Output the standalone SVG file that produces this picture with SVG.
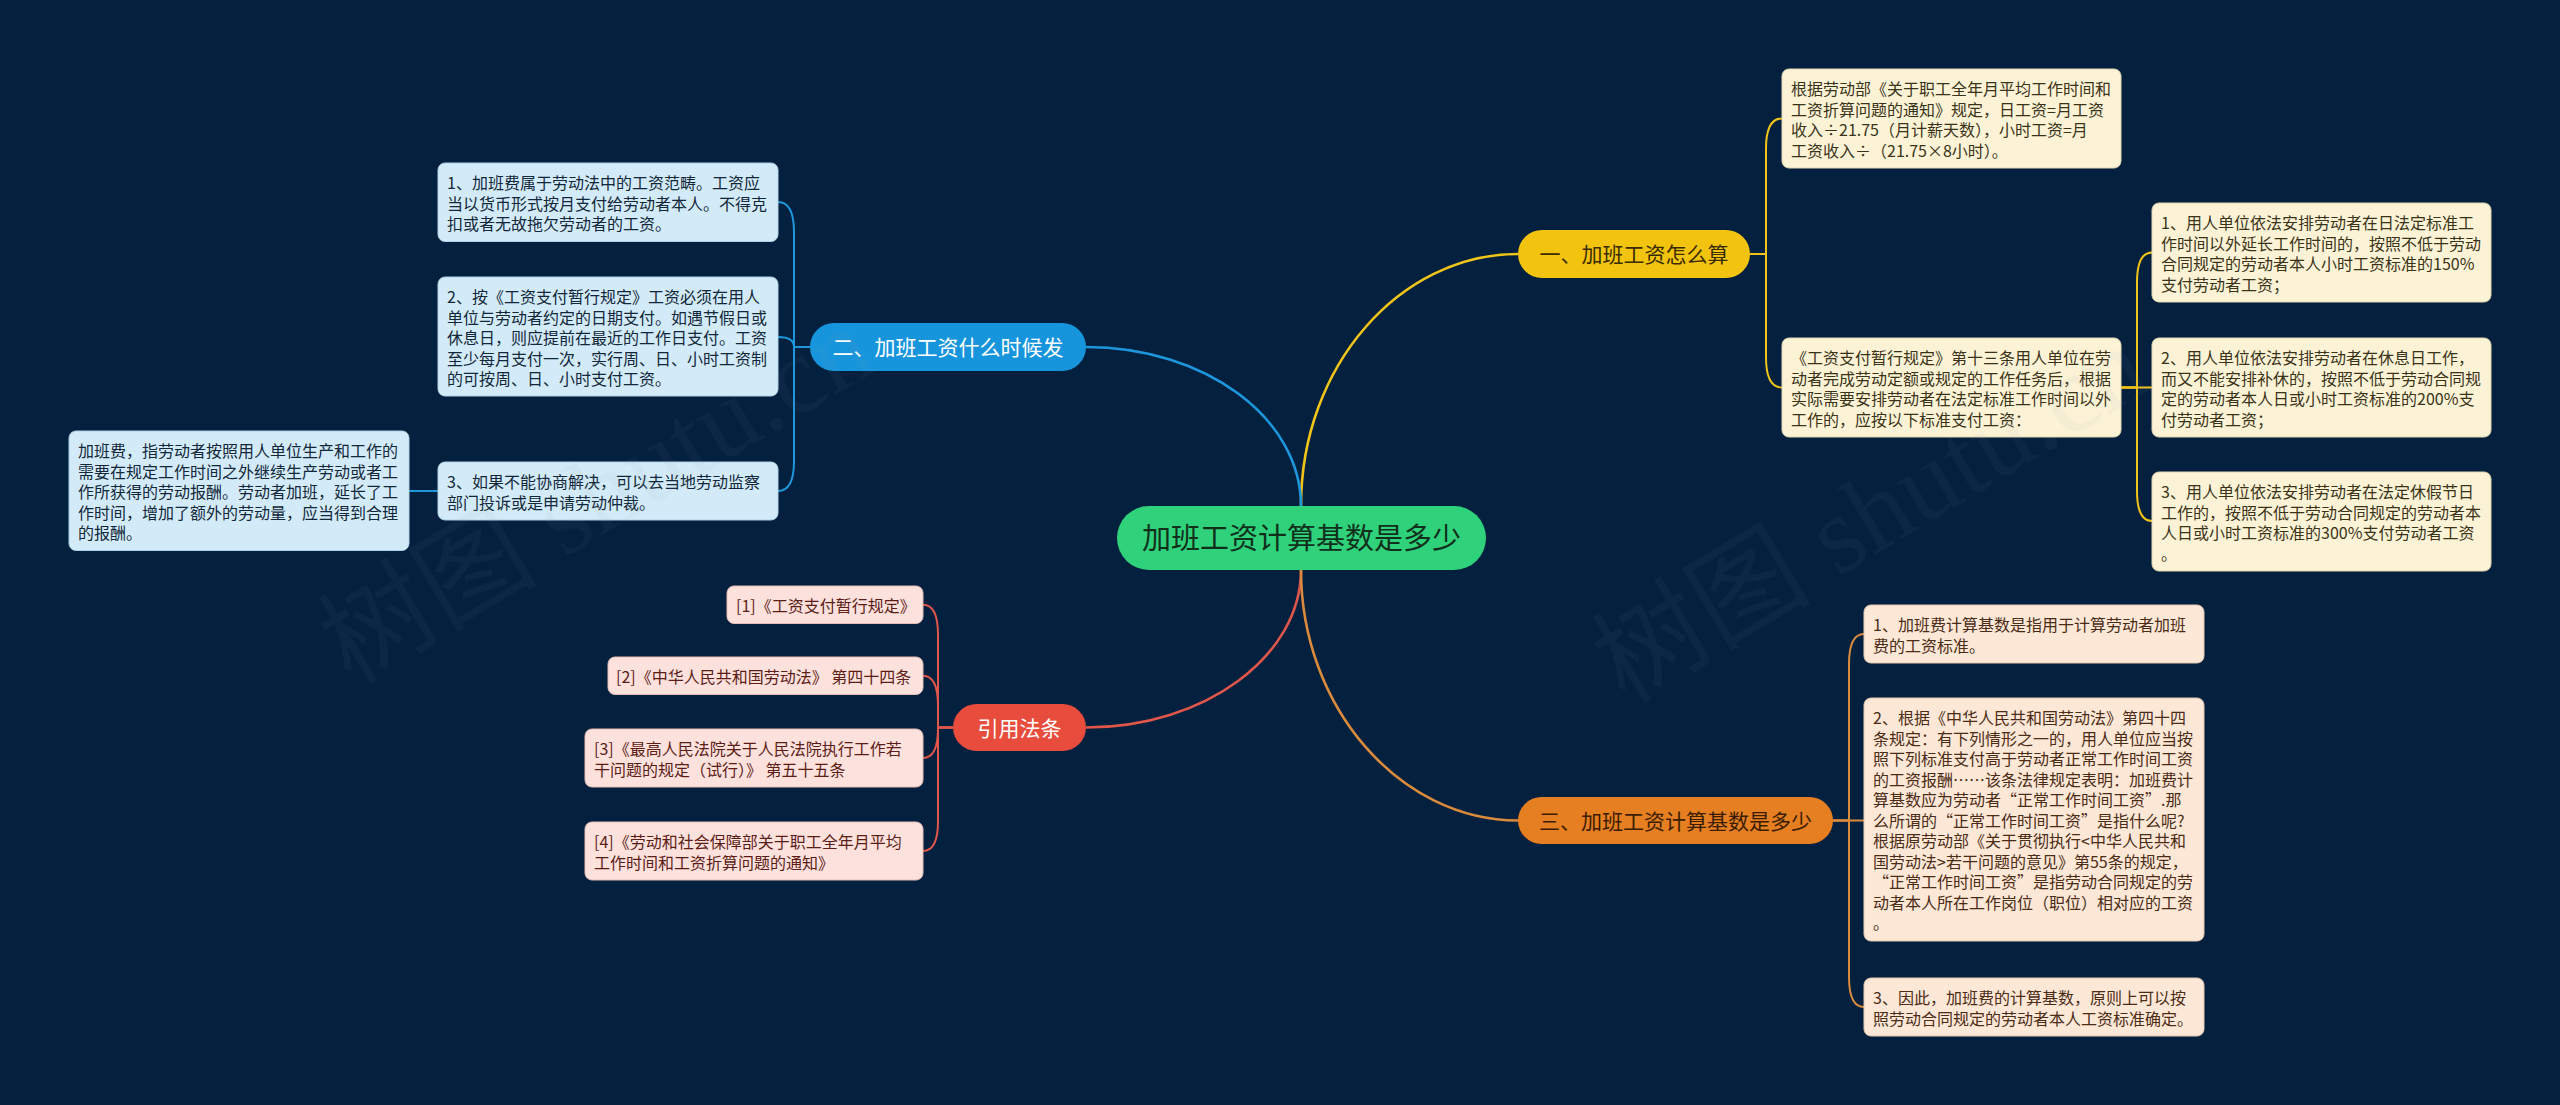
<svg xmlns="http://www.w3.org/2000/svg" width="2560" height="1105" viewBox="0 0 2560 1105">
<style>
text{font-family:"Noto Sans CJK SC","Noto Sans",sans-serif}
.leaf{font-size:16px}
.br{font-size:21px;text-anchor:middle}
.c{fill:none;stroke-width:2}
.m{fill:none;stroke-width:2.6}
.y{stroke:#f0c419}.b{stroke:#1e96dc}.r{stroke:#e0564a}.o{stroke:#d98a3c}
.ly rect{fill:#fcf3d6;stroke:#e2d6b0;stroke-width:1}.ly text{fill:#3b3318}
.lb rect{fill:#d3ebf8;stroke:#aed0e4;stroke-width:1}.lb text{fill:#12283a}
.lr rect{fill:#fce1dd;stroke:#e6bdb7;stroke-width:1}.lr text{fill:#5c1d16}
.lo rect{fill:#fde7d7;stroke:#e6c7ae;stroke-width:1}.lo text{fill:#4b2c14}
.wm{font-family:"Liberation Serif","Noto Sans CJK SC",serif;font-size:110px;fill:#8a96a6;opacity:0.06}
</style>
<rect width="2560" height="1105" fill="#03203f"/>
<g id="connectors">
<path class="m y" d="M1301,506 C1301,366 1400,254 1518,254"/>
<path class="m b" d="M1301,506 C1301,418 1205,347 1086,347"/>
<path class="m r" d="M1301,570 C1301,656 1205,727.5 1086,727.5"/>
<path class="m o" d="M1301,570 C1301,707 1400,820.5 1518,820.5"/>
<path class="c y" d="M1750,254 H1766 V148.5 Q1766,118.5 1782,118.5"/>
<path class="c y" d="M1750,254 H1766 V357.5 Q1766,387.5 1782,387.5"/>
<path class="c y" d="M2121,387.5 H2137 V282.5 Q2137,252.5 2152,252.5"/>
<path class="c y" d="M2121,387.5 H2152"/>
<path class="c y" d="M2121,387.5 H2137 V491 Q2137,521 2152,521"/>
<path class="c b" d="M810,347 H794 V232 Q794,202 778,202"/>
<path class="c b" d="M810,347 H794 Q794,337 778,337"/>
<path class="c b" d="M810,347 H794 V461 Q794,491 778,491"/>
<path class="c b" d="M438,491 H409"/>
<path class="c r" d="M953,727.5 H938 V634.75 Q938,604.75 923,604.75"/>
<path class="c r" d="M953,727.5 H938 V705.75 Q938,675.75 923,675.75"/>
<path class="c r" d="M953,727.5 H938 V728 Q938,758 923,758"/>
<path class="c r" d="M953,727.5 H938 V821 Q938,851 923,851"/>
<path class="c o" d="M1833,820.5 H1849 V664 Q1849,634 1864,634"/>
<path class="c o" d="M1833,820.5 H1864"/>
<path class="c o" d="M1833,820.5 H1849 V977 Q1849,1007 1864,1007"/>
</g>
<g id="center">
<rect x="1117" y="506" width="369" height="64" rx="32" fill="#2fd27a"/>
<text x="1301.5" y="549" font-size="29" text-anchor="middle" fill="#10301c">加班工资计算基数是多少</text>
</g>
<g id="branch1">
<rect x="1518" y="230" width="232" height="48" rx="24" fill="#f2c40f"/>
<text class="br" x="1634" y="262" fill="#3a2c00">一、加班工资怎么算</text>
</g>
<g id="branch2">
<rect x="810" y="323" width="276" height="48" rx="24" fill="#1795dc"/>
<text class="br" x="948" y="355" fill="#ffffff">二、加班工资什么时候发</text>
</g>
<g id="branch3">
<rect x="953" y="704" width="133" height="47" rx="23.5" fill="#e74c3c"/>
<text class="br" x="1019.5" y="735.5" fill="#ffffff">引用法条</text>
</g>
<g id="branch4">
<rect x="1518" y="797" width="315" height="47" rx="23.5" fill="#e67e22"/>
<text class="br" x="1675.5" y="828.5" fill="#3a1d00">三、加班工资计算基数是多少</text>
</g>
<g id="y1" class="ly">
<rect x="1782" y="69" width="339" height="99" rx="7"/>
<text class="leaf"><tspan x="1791" y="95">根据劳动部《关于职工全年月平均工作时间和</tspan><tspan x="1791" y="115.5">工资折算问题的通知》规定，日工资=月工资</tspan><tspan x="1791" y="136">收入÷21.75（月计薪天数），小时工资=月</tspan><tspan x="1791" y="156.5">工资收入÷（21.75×8小时）。</tspan></text>
</g>
<g id="y2" class="ly">
<rect x="1782" y="338" width="339" height="99" rx="7"/>
<text class="leaf"><tspan x="1791" y="364">《工资支付暂行规定》第十三条用人单位在劳</tspan><tspan x="1791" y="384.5">动者完成劳动定额或规定的工作任务后，根据</tspan><tspan x="1791" y="405">实际需要安排劳动者在法定标准工作时间以外</tspan><tspan x="1791" y="425.5">工作的，应按以下标准支付工资：</tspan></text>
</g>
<g id="y2a" class="ly">
<rect x="2152" y="203" width="339" height="99" rx="7"/>
<text class="leaf"><tspan x="2161" y="229">1、用人单位依法安排劳动者在日法定标准工</tspan><tspan x="2161" y="249.5">作时间以外延长工作时间的，按照不低于劳动</tspan><tspan x="2161" y="270">合同规定的劳动者本人小时工资标准的150%</tspan><tspan x="2161" y="290.5">支付劳动者工资；</tspan></text>
</g>
<g id="y2b" class="ly">
<rect x="2152" y="338" width="339" height="99" rx="7"/>
<text class="leaf"><tspan x="2161" y="364">2、用人单位依法安排劳动者在休息日工作，</tspan><tspan x="2161" y="384.5">而又不能安排补休的，按照不低于劳动合同规</tspan><tspan x="2161" y="405">定的劳动者本人日或小时工资标准的200%支</tspan><tspan x="2161" y="425.5">付劳动者工资；</tspan></text>
</g>
<g id="y2c" class="ly">
<rect x="2152" y="472" width="339" height="99" rx="7"/>
<text class="leaf"><tspan x="2161" y="498">3、用人单位依法安排劳动者在法定休假节日</tspan><tspan x="2161" y="518.5">工作的，按照不低于劳动合同规定的劳动者本</tspan><tspan x="2161" y="539">人日或小时工资标准的300%支付劳动者工资</tspan><tspan x="2161" y="559.5">。</tspan></text>
</g>
<g id="b1" class="lb">
<rect x="438" y="163" width="340" height="78.5" rx="7"/>
<text class="leaf"><tspan x="447" y="189">1、加班费属于劳动法中的工资范畴。工资应</tspan><tspan x="447" y="209.5">当以货币形式按月支付给劳动者本人。不得克</tspan><tspan x="447" y="230">扣或者无故拖欠劳动者的工资。</tspan></text>
</g>
<g id="b2" class="lb">
<rect x="438" y="277" width="340" height="119" rx="7"/>
<text class="leaf"><tspan x="447" y="303">2、按《工资支付暂行规定》工资必须在用人</tspan><tspan x="447" y="323.5">单位与劳动者约定的日期支付。如遇节假日或</tspan><tspan x="447" y="344">休息日，则应提前在最近的工作日支付。工资</tspan><tspan x="447" y="364.5">至少每月支付一次，实行周、日、小时工资制</tspan><tspan x="447" y="385">的可按周、日、小时支付工资。</tspan></text>
</g>
<g id="b3" class="lb">
<rect x="438" y="462" width="340" height="58" rx="7"/>
<text class="leaf"><tspan x="447" y="488">3、如果不能协商解决，可以去当地劳动监察</tspan><tspan x="447" y="508.5">部门投诉或是申请劳动仲裁。</tspan></text>
</g>
<g id="b3a" class="lb">
<rect x="69" y="431" width="340" height="119.5" rx="7"/>
<text class="leaf"><tspan x="78" y="457">加班费，指劳动者按照用人单位生产和工作的</tspan><tspan x="78" y="477.5">需要在规定工作时间之外继续生产劳动或者工</tspan><tspan x="78" y="498">作所获得的劳动报酬。劳动者加班，延长了工</tspan><tspan x="78" y="518.5">作时间，增加了额外的劳动量，应当得到合理</tspan><tspan x="78" y="539">的报酬。</tspan></text>
</g>
<g id="r1" class="lr">
<rect x="727" y="586" width="196" height="37.5" rx="7"/>
<text class="leaf" x="736" y="612">[1]《工资支付暂行规定》</text>
</g>
<g id="r2" class="lr">
<rect x="608" y="657" width="315" height="37.5" rx="7"/>
<text class="leaf" x="616" y="683">[2]《中华人民共和国劳动法》 第四十四条</text>
</g>
<g id="r3" class="lr">
<rect x="585" y="729" width="338" height="58" rx="7"/>
<text class="leaf"><tspan x="594" y="755">[3]《最高人民法院关于人民法院执行工作若</tspan><tspan x="594" y="775.5">干问题的规定（试行）》 第五十五条</tspan></text>
</g>
<g id="r4" class="lr">
<rect x="585" y="822" width="338" height="58" rx="7"/>
<text class="leaf"><tspan x="594" y="848">[4]《劳动和社会保障部关于职工全年月平均</tspan><tspan x="594" y="868.5">工作时间和工资折算问题的通知》</tspan></text>
</g>
<g id="o1" class="lo">
<rect x="1864" y="605" width="340" height="58" rx="7"/>
<text class="leaf"><tspan x="1873" y="631">1、加班费计算基数是指用于计算劳动者加班</tspan><tspan x="1873" y="651.5">费的工资标准。</tspan></text>
</g>
<g id="o2" class="lo">
<rect x="1864" y="698" width="340" height="243" rx="7"/>
<text class="leaf"><tspan x="1873" y="724">2、根据《中华人民共和国劳动法》第四十四</tspan><tspan x="1873" y="744.5">条规定：有下列情形之一的，用人单位应当按</tspan><tspan x="1873" y="765">照下列标准支付高于劳动者正常工作时间工资</tspan><tspan x="1873" y="785.5">的工资报酬……该条法律规定表明：加班费计</tspan><tspan x="1873" y="806">算基数应为劳动者“正常工作时间工资”.那</tspan><tspan x="1873" y="826.5">么所谓的“正常工作时间工资”是指什么呢?</tspan><tspan x="1873" y="847">根据原劳动部《关于贯彻执行&lt;中华人民共和</tspan><tspan x="1873" y="867.5">国劳动法&gt;若干问题的意见》第55条的规定，</tspan><tspan x="1873" y="888">“正常工作时间工资”是指劳动合同规定的劳</tspan><tspan x="1873" y="908.5">动者本人所在工作岗位（职位）相对应的工资</tspan><tspan x="1873" y="929">。</tspan></text>
</g>
<g id="o3" class="lo">
<rect x="1864" y="978" width="340" height="58" rx="7"/>
<text class="leaf"><tspan x="1873" y="1004">3、因此，加班费的计算基数，原则上可以按</tspan><tspan x="1873" y="1024.5">照劳动合同规定的劳动者本人工资标准确定。</tspan></text>
</g>
<g id="watermark">
<text class="wm" transform="translate(351,686) rotate(-31)">树图 shutu.cn</text>
<text class="wm" transform="translate(1625,705) rotate(-31)">树图 shutu.cn</text>
</g>
</svg>
